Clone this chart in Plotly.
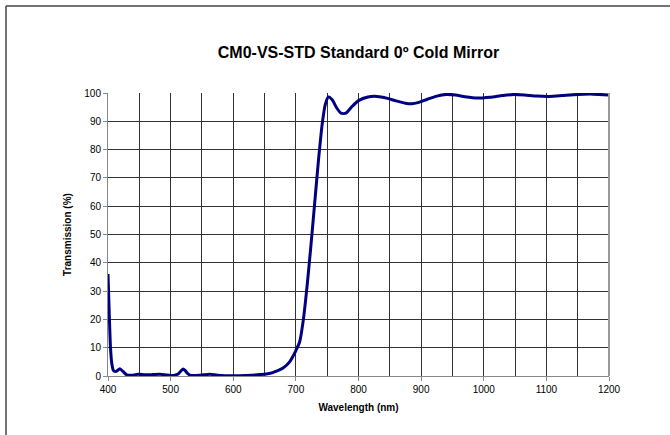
import plotly.graph_objects as go

wavelength = [400, 402, 404, 406, 408.5, 412, 415, 419, 424, 430, 440, 448, 460, 472, 483, 492, 500, 508, 513, 517, 520, 523, 527, 531, 540, 552, 563, 575, 600, 620, 643, 655, 663, 670, 678, 685, 690, 695, 700, 706, 712, 718, 724, 730, 736, 742, 747, 752, 758, 765, 772, 780, 790, 800, 815, 830, 845, 860, 875, 885, 895, 910, 925, 940, 955, 970, 990, 1010, 1030, 1048, 1065, 1085, 1105, 1125, 1150, 1175, 1200]
transmission = [36, 22, 10, 4.5, 2, 1.6, 1.9, 2.6, 1.6, 0.4, 0.3, 0.6, 0.4, 0.5, 0.6, 0.4, 0.2, 0.4, 0.9, 1.9, 2.5, 2.0, 0.9, 0.3, 0.2, 0.4, 0.6, 0.3, 0.1, 0.2, 0.5, 0.8, 1.2, 1.8, 2.6, 3.8, 5.0, 6.8, 9, 12, 20, 32, 46, 61, 76, 89, 96, 98.6, 97.6, 94.8, 92.9, 92.9, 95.3, 97.3, 98.6, 98.8, 98.2, 97.2, 96.4, 96.2, 96.6, 97.8, 98.9, 99.5, 99.3, 98.7, 98.2, 98.5, 99.1, 99.5, 99.3, 98.9, 98.8, 99.1, 99.5, 99.6, 99.3]

title_text = "CM0-VS-STD Standard 0º Cold Mirror"
x_title = "Wavelength (nm)"
y_title = "Transmission (%)"

W, H = 670, 435
L, R, T, B = 108, 61, 93, 59
pw, ph = W - L - R, H - T - B

fig = go.Figure()
fig.add_trace(go.Scatter(
    x=wavelength, y=transmission, mode="lines",
    line=dict(color="#000080", width=3, shape="spline", smoothing=0.6),
    showlegend=False, hoverinfo="skip"))

font = "Liberation Sans, Arial, sans-serif"
grid = "#333333"

fig.update_layout(
    width=W, height=H,
    margin=dict(l=L, r=R, t=T, b=B),
    paper_bgcolor="white", plot_bgcolor="white",
    font=dict(family=font, size=10, color="black"),
    title=dict(text="<b>" + title_text + "</b>", x=(L + pw / 2) / W, xanchor="center",
               y=1 - 52 / H, yanchor="middle", font=dict(size=16, color="black")),
    xaxis=dict(range=[400, 1200], dtick=100, tick0=400, showgrid=True, gridcolor=grid, gridwidth=1,
               minor=dict(dtick=50, showgrid=True, gridcolor=grid, gridwidth=1, ticks=""),
               ticks="outside", ticklen=4, tickcolor="#888", showline=True, linecolor="#888",
               linewidth=1, mirror=False, zeroline=False,
               tickfont=dict(size=10, color="black"),
               title=dict(text="<b>" + x_title + "</b>", font=dict(size=10), standoff=9)),
    yaxis=dict(range=[0, 100], dtick=10, showgrid=True, gridcolor=grid, gridwidth=1,
               ticks="outside", ticklen=4, tickcolor="#888", showline=True, linecolor="#888",
               linewidth=1, zeroline=False,
               tickfont=dict(size=10, color="black"),
               title=dict(text="<b>" + y_title + "</b>", font=dict(size=10), standoff=10)),
)

# right edge of plot frame (gray)
fig.add_shape(type="line", xref="paper", yref="paper", x0=1, x1=1, y0=0, y1=1,
              line=dict(color="#999", width=2))
# outer chart border (top and left)
fig.add_shape(type="line", xref="paper", yref="paper",
              x0=(6 - L) / pw, x1=(W - L) / pw, y0=(H - B - 6) / ph, y1=(H - B - 6) / ph,
              line=dict(color="#444", width=1.5))
fig.add_shape(type="line", xref="paper", yref="paper",
              x0=(6 - L) / pw, x1=(6 - L) / pw, y0=(H - B - 6) / ph, y1=(H - B - H) / ph,
              line=dict(color="#444", width=1.5))

fig.write_html("out.html", config={"displayModeBar": False},
               post_script="document.body.style.margin='0px';document.body.style.padding='0px';")
